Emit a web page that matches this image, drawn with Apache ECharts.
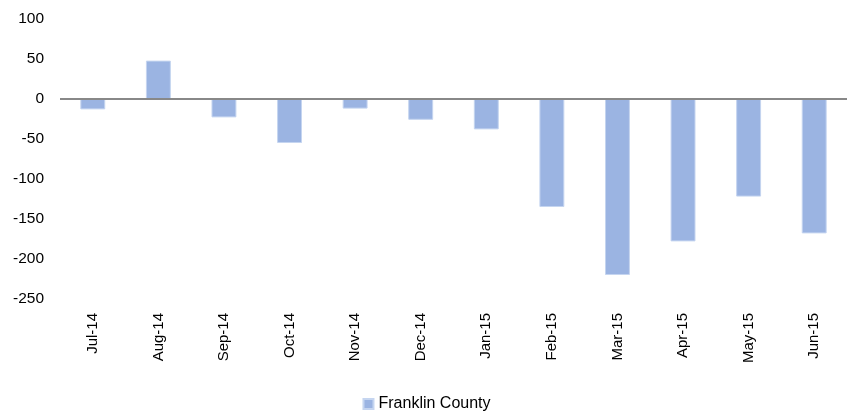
<!DOCTYPE html>
<html>
<head>
<meta charset="utf-8">
<script src="https://cdn.jsdelivr.net/npm/echarts@6/dist/echarts.min.js"></script>
<style>html,body{margin:0;padding:0;background:#fff}#c{width:853px;height:413px}</style>
</head>
<body>
<div id="c"></div>
<script>
const categories = ['Jul-14','Aug-14','Sep-14','Oct-14','Nov-14','Dec-14','Jan-15','Feb-15','Mar-15','Apr-15','May-15','Jun-15'];
const franklinCounty = [-13, 48, -23, -55, -12, -26, -38, -135, -220, -178, -122, -168];
const seriesName = 'Franklin County';

const chart = echarts.init(document.getElementById('c'));
const font = 'Liberation Sans, Arial, sans-serif';
chart.setOption({
  animation: false,
  textStyle: { fontFamily: font },
  grid: { left: 60, right: 6, top: 19, bottom: 114, containLabel: false },
  legend: {
    top: 391, left: 'center',
    itemWidth: 10, itemHeight: 10, itemGap: 6,
    icon: 'rect',
    textStyle: { fontSize: 16, color: '#000', fontFamily: font },
    data: [seriesName]
  },
  xAxis: {
    type: 'category',
    data: categories,
    axisLine: { show: false, onZero: false },
    axisTick: { show: false },
    axisLabel: { rotate: 90, fontSize: 15, color: '#000', margin: 14, fontFamily: font }
  },
  yAxis: {
    type: 'value',
    min: -250, max: 100, interval: 50,
    splitLine: { show: false },
    axisLine: { show: false },
    axisTick: { show: false },
    axisLabel: { fontSize: 15.5, color: '#000', margin: 16, fontFamily: font }
  },
  series: [{
    name: seriesName,
    type: 'bar',
    data: franklinCounty,
    barWidth: '38%',
    itemStyle: { color: '#9bb4e2', borderColor: '#c5d5f0', borderWidth: 1 },
    markLine: {
      silent: true, symbol: 'none', label: { show: false },
      lineStyle: { color: '#888', width: 2, type: 'solid' },
      data: [{ yAxis: 0 }]
    }
  }]
});
</script>
</body>
</html>
